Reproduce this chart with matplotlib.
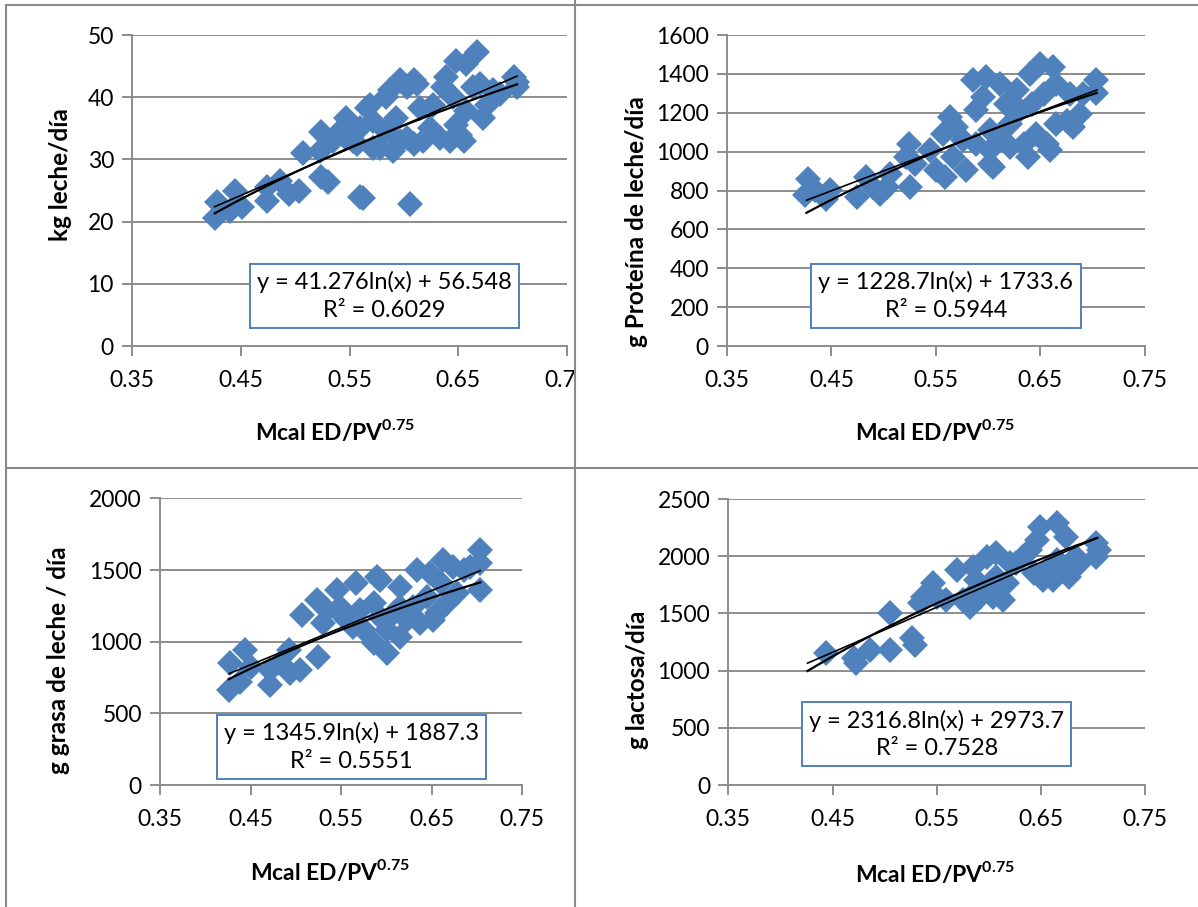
import matplotlib
matplotlib.use("Agg")
import matplotlib.pyplot as plt
import numpy as np
from matplotlib.lines import Line2D
from matplotlib.transforms import Bbox, TransformedBbox

plt.rcParams['font.family'] = ['Lato', 'DejaVu Sans']
plt.rcParams['mathtext.fontset'] = 'custom'
plt.rcParams['mathtext.rm'] = 'Lato'
plt.rcParams['mathtext.bf'] = 'Lato:bold'

BLUE = '#4F81BD'
GRID = '#8C8C8C'

# trendlines are drawn over the full range of energy intake
X_MIN, X_MAX = 0.426, 0.704

# kg leche/dia vs Mcal ED/PV^0.75
x_leche = [0.426, 0.428, 0.44, 0.445, 0.451, 0.474, 0.474, 0.486, 0.494, 0.504,
           0.507, 0.524, 0.524, 0.53, 0.523, 0.535, 0.547, 0.541, 0.553, 0.56,
           0.56, 0.562, 0.566, 0.569, 0.572, 0.578, 0.584, 0.587, 0.59, 0.593,
           0.596, 0.596, 0.603, 0.606, 0.609, 0.612, 0.609, 0.615, 0.618, 0.624,
           0.627, 0.633, 0.636, 0.639, 0.642, 0.645, 0.648, 0.648, 0.652, 0.655,
           0.657, 0.657, 0.667, 0.664, 0.67, 0.673, 0.676, 0.682, 0.688, 0.701,
           0.704, 0.704, 0.603, 0.584, 0.572, 0.557, 0.547]
y_leche = [20.6, 23.1, 21.7, 24.9, 22.3, 23.3, 25.5, 26.6, 24.4, 24.9,
           31.1, 34.4, 27.1, 26.3, 31.4, 32.9, 36.7, 34.6, 32.9, 35.1,
           23.9, 23.8, 38.3, 38.8, 36.2, 31.9, 34.6, 41.1, 31.4, 36.7,
           42.7, 32.9, 33.5, 22.8, 42.7, 42.2, 32.5, 38.3, 32.9, 35.1,
           38.8, 33.5, 41.6, 43.2, 32.9, 40.0, 45.9, 35.6, 34.0, 32.9,
           45.4, 37.8, 47.2, 41.6, 42.2, 36.7, 38.8, 41.1, 40.5, 43.2,
           41.6, 42.4, 41.6, 40.0, 31.9, 32.5, 33.5]

# g proteina de leche/dia
x_prot = [0.428, 0.425, 0.434, 0.449, 0.445, 0.474, 0.483, 0.49, 0.496, 0.506,
          0.503, 0.524, 0.525, 0.521, 0.53, 0.544, 0.55, 0.559, 0.563, 0.566,
          0.569, 0.579, 0.585, 0.588, 0.588, 0.598, 0.602, 0.602, 0.605, 0.611,
          0.614, 0.617, 0.621, 0.621, 0.63, 0.634, 0.64, 0.642, 0.646, 0.65,
          0.653, 0.656, 0.659, 0.662, 0.665, 0.665, 0.675, 0.678, 0.681, 0.688,
          0.691, 0.703, 0.703, 0.628, 0.595, 0.576, 0.557, 0.602, 0.638]
y_prot = [861, 775, 801, 801, 758, 766, 869, 817, 784, 886,
          817, 1041, 817, 972, 938, 1006, 903, 869, 1177, 972,
          1126, 903, 1366, 1212, 1041, 1383, 938, 1109, 920, 1349,
          1058, 1246, 1143, 1023, 1212, 1041, 1400, 1246, 1092, 1452,
          1298, 1041, 1006, 1434, 1349, 1143, 1160, 1298, 1126, 1195,
          1298, 1366, 1302, 1315, 1280, 1058, 1092, 1006, 972]

# g grasa de leche / dia
x_grasa = [0.426, 0.427, 0.438, 0.444, 0.45, 0.472, 0.472, 0.483, 0.492, 0.494,
           0.505, 0.507, 0.525, 0.523, 0.53, 0.534, 0.545, 0.549, 0.556, 0.567,
           0.563, 0.575, 0.586, 0.59, 0.593, 0.593, 0.601, 0.601, 0.608, 0.615,
           0.615, 0.623, 0.63, 0.634, 0.637, 0.645, 0.648, 0.652, 0.66, 0.663,
           0.667, 0.674, 0.678, 0.686, 0.693, 0.704, 0.704, 0.704, 0.656, 0.586,
           0.571, 0.615, 0.553]
y_grasa = [663, 849, 721, 942, 826, 698, 802, 849, 942, 779,
           802, 1186, 895, 1291, 1128, 1221, 1361, 1244, 1151, 1407,
           1105, 1082, 989, 1454, 1431, 1174, 919, 1082, 1198, 1384,
           1035, 1151, 1244, 1500, 1128, 1314, 1477, 1151, 1407, 1570,
           1268, 1523, 1338, 1500, 1523, 1640, 1547, 1361, 1198, 1268,
           1221, 1244, 1175]

# g lactosa/dia
x_lact = [0.444, 0.471, 0.473, 0.486, 0.505, 0.505, 0.526, 0.529, 0.534, 0.537,
          0.546, 0.55, 0.559, 0.569, 0.575, 0.582, 0.585, 0.591, 0.598, 0.601,
          0.607, 0.614, 0.617, 0.62, 0.633, 0.639, 0.643, 0.646, 0.649, 0.652,
          0.658, 0.661, 0.665, 0.665, 0.671, 0.677, 0.684, 0.687, 0.703, 0.706,
          0.703, 0.674, 0.588, 0.607, 0.626, 0.582, 0.604]
y_lact = [1151, 1107, 1064, 1180, 1180, 1501, 1282, 1224, 1588, 1646,
          1763, 1646, 1617, 1879, 1617, 1559, 1908, 1646, 1996, 1733,
          2025, 1617, 1763, 1938, 1996, 2054, 1851, 2142, 2258, 1792,
          1908, 1792, 2288, 1967, 1879, 1821, 1996, 1938, 2113, 2054,
          1996, 2171, 1792, 1821, 1938, 1646, 1646]

panels = [
    # x, y, a, b, r2, ylabel, ymax, ystep, axes rect, box pos, ylabel pos, xlabel pos
    (x_leche, y_leche, 41.276, 56.548, '0.6029', 'kg leche/día', 50, 10,
     [0.1102, 0.6185, 0.3631, 0.3429], (0.58, 0.16), (-0.138, 0.55), (0.467, -0.23)),
    (x_prot, y_prot, 1228.7, 1733.6, '0.5944', 'g Proteína de leche/día', 1600, 200,
     [0.6068, 0.6185, 0.3489, 0.3429], (0.524, 0.16), (-0.189, 0.40), (0.498, -0.23)),
    (x_grasa, y_grasa, 1345.9, 1887.3, '0.5551', 'g grasa de leche / día', 2000, 500,
     [0.1336, 0.1345, 0.3022, 0.3159], (0.528, 0.132), (-0.249, 0.435), (0.47, -0.254)),
    (x_lact, y_lact, 2316.8, 2973.7, '0.7528', 'g lactosa/día', 2500, 500,
     [0.6079, 0.1345, 0.3481, 0.3153], (0.50, 0.177), (-0.19, 0.367), (0.496, -0.262)),
]

fig = plt.figure(figsize=(11.98, 9.07), dpi=100)

# panel frames
frame = dict(color='#8A8A8A', lw=1.5, transform=fig.transFigure)
W, H = 1198.0, 907.0
for (x0, y0, x1, y1) in [(6, 5, 575, 5), (6, 5, 6, 907), (575, 0, 575, 907),
                         (6, 468, 1198, 468), (575, 5, 1198, 5)]:
    fig.add_artist(Line2D([x0 / W, x1 / W], [1 - y0 / H, 1 - y1 / H], **frame))

for i, (xs, ys, a, b, r2, ylab, ymax, ystep, rect, boxpos, ylpos, xlpos) in enumerate(panels):
    ax = fig.add_axes(rect)
    xs = np.array(xs)
    ys = np.array(ys)
    ax.plot(xs, ys, linestyle='none', marker='D', markersize=13,
            color=BLUE, markeredgewidth=0, zorder=3)

    xx = np.linspace(X_MIN, X_MAX, 100)
    ax.plot(xx, a * np.log(xx) + b, color='black', lw=1.6, zorder=4)
    k, c = np.polyfit(xs, ys, 1)
    ax.plot(xx, k * xx + c, color='black', lw=1.2, zorder=4)

    ax.set_xlim(0.35, 0.75)
    ax.set_ylim(0, ymax)
    ax.set_xticks([0.35, 0.45, 0.55, 0.65, 0.75])
    ax.set_xticklabels(['0.35', '0.45', '0.55', '0.65', '0.75'])
    ax.set_yticks(np.arange(0, ymax + 1, ystep))
    ax.grid(axis='y', color=GRID, lw=1.4)
    ax.set_axisbelow(True)
    for s in ['top', 'right']:
        ax.spines[s].set_visible(False)
    for s in ['left', 'bottom']:
        ax.spines[s].set_color(GRID)
        ax.spines[s].set_linewidth(1.4)
    ax.tick_params(axis='both', colors=GRID, labelcolor='black', labelsize=16.5,
                   width=1.4, length=7)
    ax.tick_params(axis='x', pad=10)
    ax.tick_params(axis='y', pad=6)

    ax.set_ylabel(ylab, fontsize=17.5, fontweight='bold')
    ax.yaxis.set_label_coords(*ylpos)
    ax.set_xlabel(r'Mcal ED/PV$^{\mathbf{0.75}}$', fontsize=16.5, fontweight='bold')
    ax.xaxis.set_label_coords(*xlpos)

    ax.text(boxpos[0], boxpos[1], 'y = %sln(x) + %s\nR² = %s' % (a, b, r2),
            transform=ax.transAxes, ha='center', va='center', fontsize=17,
            linespacing=1.4, zorder=5,
            bbox=dict(boxstyle='square,pad=0.3', facecolor='white',
                      edgecolor=BLUE, lw=1.4))

    if i == 0:
        # top-left tick labels are cut off by the frame line
        clip = TransformedBbox(Bbox([[0, 0], [575 / W, 1]]), fig.transFigure)
        for lbl in ax.get_xticklabels():
            lbl.set_clip_on(True)
            lbl.set_clip_box(clip)

fig.savefig('out.png', dpi=100)
